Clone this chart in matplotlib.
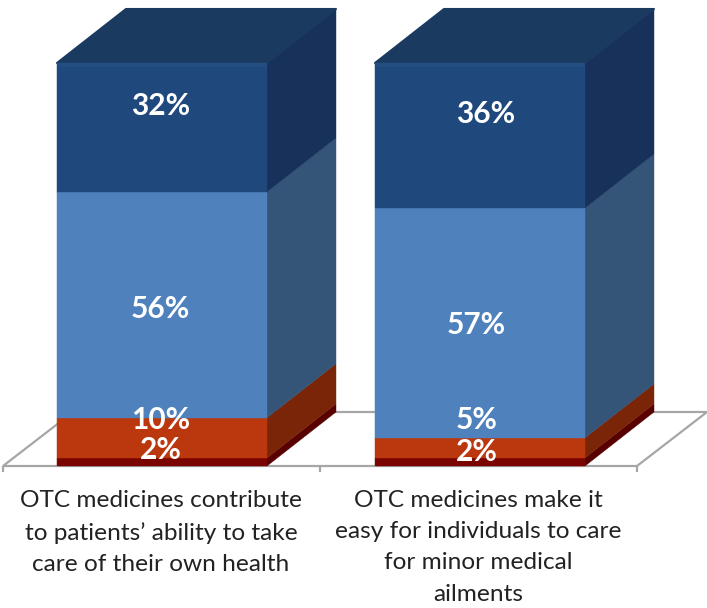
import matplotlib
matplotlib.use("Agg")
import matplotlib.pyplot as plt
from matplotlib.patches import Polygon, Rectangle

categories = ["OTC medicines contribute\nto patients\u2019 ability to take\ncare of their own health",
              "OTC medicines make it\neasy for individuals to care\nfor minor medical\nailments"]
seg_a = [2, 2]      # darkest red
seg_b = [10, 5]     # orange
seg_c = [56, 57]    # light blue
seg_d = [32, 36]    # dark blue
series = [seg_a, seg_b, seg_c, seg_d]

W, H = 707, 608
PX_X = 318.0          # pixels per category
PX_Y = 4.03           # pixels per percent
X0 = 162.0            # pixel of category 0
Y0 = 466.0            # pixel of value 0
BAR = 210 / PX_X
DX = 69 / PX_X
DY = 54 / PX_Y

front = ["#7A0400", "#BB380E", "#4F81BD", "#1F497D"]
side = ["#580000", "#7A2508", "#345478", "#17315A"]
top_c = "#1A3A60"

fig = plt.figure(figsize=(W / 100, H / 100), dpi=100)
ax = fig.add_axes([0, 0, 1, 1])
ax.set_xlim(-X0 / PX_X, (W - X0) / PX_X)
ax.set_ylim(-(H - Y0) / PX_Y, Y0 / PX_Y)
ax.axis("off")

# floor
xl = (3 - X0) / PX_X
xr = (637 - X0) / PX_X
GRAY = "#A6A6A6"
ax.add_patch(Polygon([(xl, 0), (xr, 0), (xr + 70 / PX_X, DY), (xl + 70 / PX_X, DY)], closed=True,
                     fc="white", ec=GRAY, lw=1.6, zorder=1))
for t in (xl, (320 - X0) / PX_X, xr):
    ax.plot([t, t], [0, -6 / PX_Y], color=GRAY, lw=1.6, zorder=1, solid_capstyle="butt")

# bars
for i in range(len(categories)):
    left, right = i - BAR / 2, i + BAR / 2
    base = 0
    for s, vals in enumerate(series):
        v = vals[i]
        ax.add_patch(Polygon([(right, base), (right + DX, base + DY),
                              (right + DX, base + v + DY), (right, base + v)],
                             closed=True, fc=side[s], ec=side[s], lw=0.3, zorder=3))
        ax.add_patch(Rectangle((left, base), BAR, v, fc=front[s], ec=front[s], lw=0.3, zorder=4))
        base += v
    ax.add_patch(Polygon([(left, base), (right, base), (right + DX, base + DY), (left + DX, base + DY)],
                         closed=True, fc=top_c, ec=top_c, lw=1.5, joinstyle="round", zorder=3))
    # soft highlight along the front edge of the top block
    ax.add_patch(Rectangle((left, base - 4 / PX_Y), BAR, 4 / PX_Y, fc="#234E82", ec="none", zorder=5))
    # left outline of bar
    ax.plot([left, left], [0, base], color="#BFBFBF", lw=0.8, zorder=2)

# data labels
label_vals = [[2, 10, 56, 32], [2, 5, 57, 36]]
label_x = [[-0.004, -0.004, -0.004, -0.004], [-0.01, -0.01, -0.012, 0.016]]
label_y = [[4.0, 11.3, 39.0, 89.4], [3.5, 11.3, 35.0, 87.4]]
for i, (vals, xs, ys) in enumerate(zip(label_vals, label_x, label_y)):
    for v, x, y in zip(vals, xs, ys):
        ax.text(i + x, y, f"{v}%", color="white", fontsize=21.5, fontweight="bold",
                family="Lato", ha="center", va="center", zorder=6)

# category labels
for i, c in enumerate(categories):
    ax.text(i - 0.003 - 0.002 * i, -24 / PX_Y, c, color="#222222", fontsize=17.6, family="Lato",
            ha="center", va="top", linespacing=1.6, zorder=6)

fig.savefig("out.png", dpi=100)
